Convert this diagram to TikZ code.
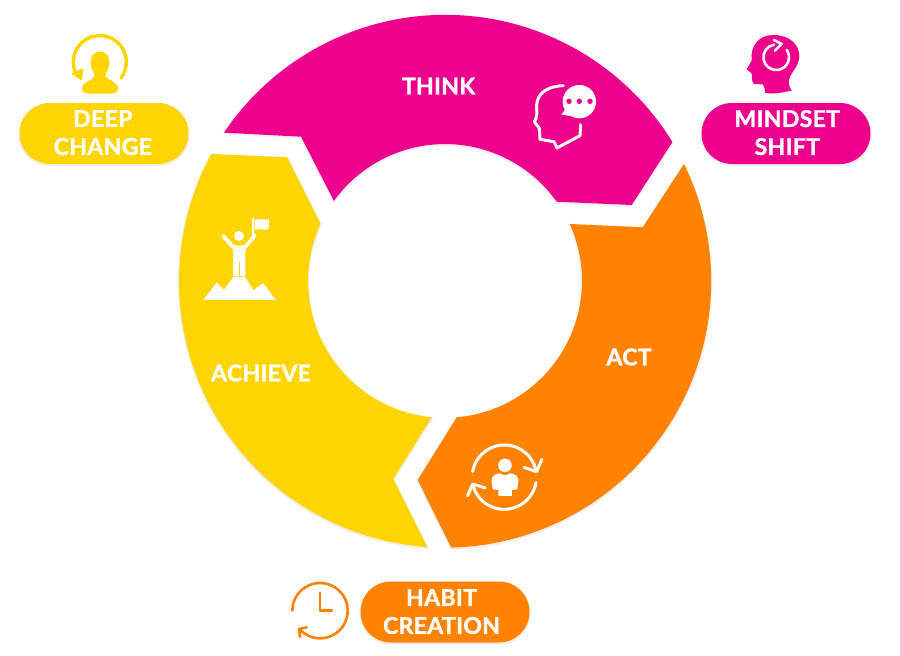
\documentclass[tikz,border=0pt]{standalone}
\usepackage{fontspec}
\setmainfont{Lato}[BoldFeatures={FakeBold=1.5,LetterSpace=1.5}]
\usetikzlibrary{shapes.misc}
\definecolor{mag}{HTML}{EC008C}
\definecolor{org}{HTML}{FF8200}
\definecolor{yel}{HTML}{FFD500}
\tikzset{
  soft/.style={preaction={draw=black,draw opacity=.025,line width=3.5pt,line join=round,transform canvas={yshift=-1pt}},
               preaction={draw=black,draw opacity=.04,line width=1.5pt,line join=round,transform canvas={yshift=-1pt}}},
  seg/.style={soft,line join=miter},
  pill/.style={rounded rectangle,soft,minimum width=169pt,minimum height=61pt,inner sep=0pt},
  pilltext/.style={inner sep=0pt,align=center,text=white,font=\fontsize{23}{28}\selectfont\bfseries},
  seglabel/.style={text=white,inner sep=0pt,font=\fontsize{23}{28}\selectfont\bfseries},
  zoomA/.style={shift={(0,0)},x=.3333pt,y=-.3333pt},
  zoomB/.style={shift={(500,20)},x=.3333pt,y=-.3333pt},
  zoomC/.style={shift={(280,400)},x=.3333pt,y=-.3333pt},
  wline/.style={draw=white,line cap=round,line join=round,line width=3pt},
}
\begin{document}
\begin{tikzpicture}[x=1pt,y=-1pt]
\useasboundingbox (0,0) rectangle (900,656);
% segments
\fill[seg,mag] (224,132.7) arc[start angle=146.1,end angle=31.5,radius=266.5pt] -- (631.7,205) -- (556.7,201.7)
   arc[start angle=35.4,end angle=144.2,radius=137pt] -- (301,136.7) -- cycle;
\fill[seg,org] (684,164) arc[start angle=26.1,end angle=-88.6,radius=266.5pt] -- (417.7,480) -- (456.7,417.3)
   arc[start angle=-85.1,end angle=24.5,radius=137pt] -- (642.7,227.3) -- cycle;
\fill[seg,yel] (211.3,154) arc[start angle=151.5,end angle=266.1,radius=266.5pt] -- (393.3,479) -- (431.7,417.3)
   arc[start angle=264.4,end angle=155.4,radius=137pt] -- (287.3,157.3) -- cycle;
% labels
\node[seglabel] (think) at (438.5,86) {THINK};
\node[seglabel] (act) at (629,357) {ACT};
\node[seglabel] (achieve) at (261,373) {ACHIEVE};
% pills
\node[pill,fill=yel] (deeppill) at (104,133.5) {};
\node[pilltext] (deep) at (102.8,132.6) {DEEP\\CHANGE};
\node[pill,fill=mag] (mindsetpill) at (786,133.5) {};
\node[pilltext] (mindset) at (787.3,132.6) {MINDSET\\SHIFT};
\node[pill,fill=org] (habitpill) at (445,612) {};
\node[pilltext] (habit) at (441.5,611.6) {HABIT\\CREATION};
% deep change icon
\begin{scope}[zoomA]
  \draw[yel,line width=3.4pt,line cap=round] (363,234) arc[start angle=-37,end angle=207,radius=26.5pt];
  \fill[yel,rounded corners=1pt] (214,220) -- (250,204) -- (246,243) -- cycle;
  \fill[yel] (300,155) .. controls (278,155) and (270,175) .. (272,192) .. controls (274,208) and (282,218) .. (284,226)
    .. controls (284,238) and (246,246) .. (246,266) .. controls (246,278) and (258,281) .. (270,281)
    -- (330,281) .. controls (342,281) and (355,278) .. (355,266) .. controls (355,246) and (316,238) .. (316,226)
    .. controls (318,218) and (326,208) .. (328,192) .. controls (330,175) and (322,155) .. (300,155) -- cycle;
\end{scope}
% achieve icon
\begin{scope}[zoomA]
  \fill[white] (717,708) circle[radius=5pt];
  \fill[white] (757,653) rectangle (763,705);
  \fill[white] (764,660) .. controls (778,652) and (790,664) .. (807,657) -- (806,688) .. controls (790,692) and (778,682) .. (764,690) -- cycle;
  \draw[wline,line width=3.8pt] (670,708) -- (700,742) -- (735,742) -- (765,706);
  \fill[white,rounded corners=1pt] (699,740) -- (736,740) -- (736,828) -- (699,828) -- cycle;
  \draw[yel,line width=.8pt] (717.5,785) -- (717.5,830);
  \fill[white] (610,900) -- (650,848) -- (672,870) -- (700,830) -- (735,830) -- (760,870) -- (790,850) -- (828,900) -- cycle;
\end{scope}
% think icon
\begin{scope}[zoomB]
  \draw[wline] (190,197) .. controls (150,198) and (112,215) .. (110,255) .. controls (109,275) and (115,285) .. (103,305)
     -- (118,325) -- (120,358) -- (162,365) -- (171,384) -- (240,347) -- (242,314);
  \fill[white] (238,245) circle[radius=16.7pt];
  \fill[white] (205,255) -- (184,284) -- (225,290) -- cycle;
  \fill[mag] (207,244) circle[radius=2.7pt] (238,244) circle[radius=2.7pt] (270,244) circle[radius=2.7pt];
\end{scope}
% mindset icon
\begin{scope}[zoomB]
  \fill[mag] (795,218) .. controls (795,205) and (792,198) .. (788,193) -- (762,192) .. controls (755,188) and (756,170) .. (755,160)
     -- (740,148) -- (755,122) .. controls (750,80) and (775,45) .. (820,45)
     .. controls (870,45) and (898,75) .. (898,108) .. controls (898,135) and (880,150) .. (870,170)
     .. controls (864,185) and (866,200) .. (875,212) .. controls (850,216) and (820,225) .. (795,218) -- cycle;
  \draw[white,line width=2.6pt,line cap=round] (822,74) arc[start angle=100,end angle=395,radius=12.8pt];
  \draw[white,line width=2.6pt,line cap=round,line join=round] (822,60) -- (845,72) -- (825,92);
\end{scope}
% act icon
\begin{scope}[zoomC]
  \draw[wline] (578,215) arc[start angle=170,end angle=15,radius=32.3pt];
  \draw[wline] (732,202) -- (770,215) -- (786,178);
  \draw[wline] (768,248) arc[start angle=-10,end angle=-162,radius=32.3pt];
  \draw[wline] (563,287) -- (578,252) -- (616,264);
  \fill[white] (675,196) circle[radius=6.8pt];
  \fill[white] (658,220) .. controls (645,222) and (636,228) .. (635,240) -- (638,268) -- (655,270) -- (655,288) -- (696,288) -- (696,270) -- (712,268) -- (715,240)
     .. controls (714,228) and (705,222) .. (692,220) -- (675,226) -- cycle;
\end{scope}
% clock icon
\begin{scope}[zoomC]
  \draw[org,line width=2.6pt,line cap=round] (37,632) arc[start angle=180,end angle=-135,radius=27.7pt];
  \draw[org,line width=2.6pt,line cap=round,line join=round] (60,711) -- (57,687) -- (80,682);
  \draw[org,line width=2.6pt,line cap=round,line join=round] (120,578) -- (120,632) -- (156,632);
\end{scope}
\end{tikzpicture}
\end{document}
